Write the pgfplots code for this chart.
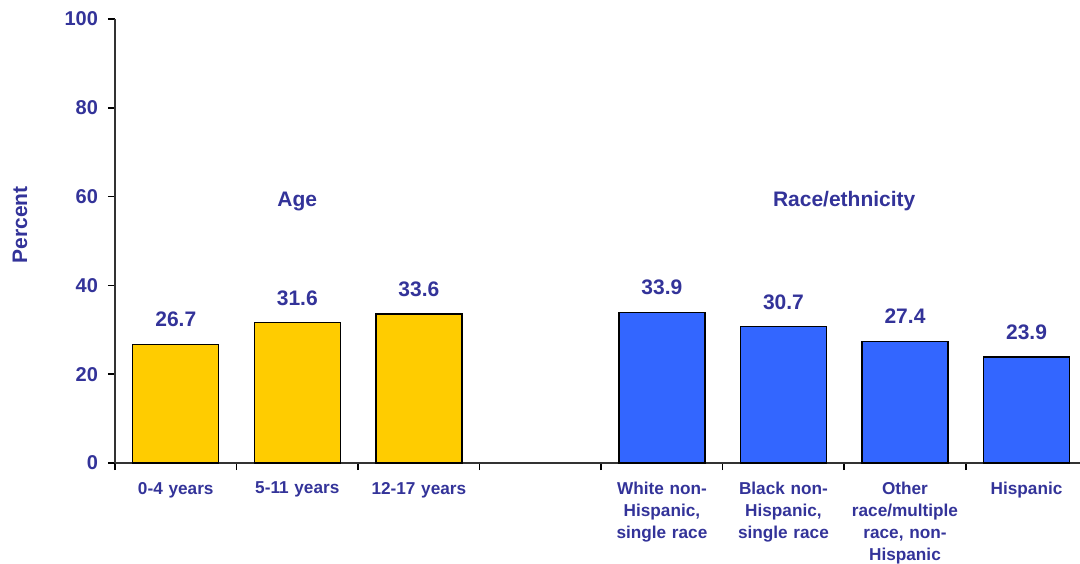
\documentclass[border=0pt]{standalone}
\usepackage{pgfplots}
\pgfplotsset{compat=1.18}
\usepackage{fontspec}
\setmainfont{Liberation Sans}
\definecolor{txt}{RGB}{51,51,153}
\definecolor{gold}{RGB}{255,204,0}
\definecolor{blu}{RGB}{51,102,255}
\begin{document}
\begin{tikzpicture}
\useasboundingbox (-57.5pt,-50pt) rectangle (482.5pt,231.5pt);
\begin{axis}[
  at={(0,0)}, anchor=south west,
  scale only axis, width=482.5pt, height=222pt,
  xmin=-0.5, xmax=7.44, ymin=0, ymax=100,
  axis lines=left, axis line style={-, draw=black!80, line width=0.8pt},
  ytick={0,20,...,100},
  xtick={0,...,7},
  xticklabels={0-4 years,5-11 years,12-17 years,,{White non-\\Hispanic,\\single race},{Black non-\\Hispanic,\\single race},{Other\\race/multiple\\race, non-\\Hispanic},Hispanic},
  minor xtick={-0.5,0.5,...,7.5},
  major x tick style={draw=none},
  minor tick length=3.5pt, major tick length=3.5pt,
  tick align=outside,
  tick style={black, line width=0.8pt},
  /pgf/number format/assume math mode=true,
  yticklabel style={font=\fontsize{10}{12}\selectfont\bfseries, text=txt, xshift=-1.5pt},
  xticklabel style={font=\fontsize{8.6}{11}\selectfont\bfseries, text=txt, align=center, text width=60pt, anchor=north, yshift=-2.5pt},
  every axis y label/.style={at={(axis description cs:0,0.5)}, rotate=90, anchor=center, xshift=8pt, yshift=47.5pt, font=\fontsize{10.5}{12}\selectfont\bfseries, text=txt},
  ylabel={Percent},
  ybar, bar width=43pt,
  nodes near coords,
  point meta=explicit symbolic,
  every node near coord/.style={font=\fontsize{10.5}{12}\selectfont\bfseries, text=txt, anchor=south, yshift=5pt},
  clip=false,
]
\addplot[fill=gold, draw=black, line width=0.7pt, bar shift=0pt] coordinates {(0,26.7)[26.7] (1,31.6)[31.6] (2,33.6)[33.6]};
\addplot[fill=blu, draw=black, line width=0.7pt, bar shift=0pt] coordinates {(4,33.9)[33.9] (5,30.7)[30.7] (6,27.4)[27.4] (7,23.9)[23.9]};
\node[font=\fontsize{10.5}{12}\selectfont\bfseries, text=txt] at (axis cs:1,59) {Age};
\node[font=\fontsize{10.5}{12}\selectfont\bfseries, text=txt] at (axis cs:5.5,59) {Race/ethnicity};
\end{axis}
\end{tikzpicture}
\end{document}
